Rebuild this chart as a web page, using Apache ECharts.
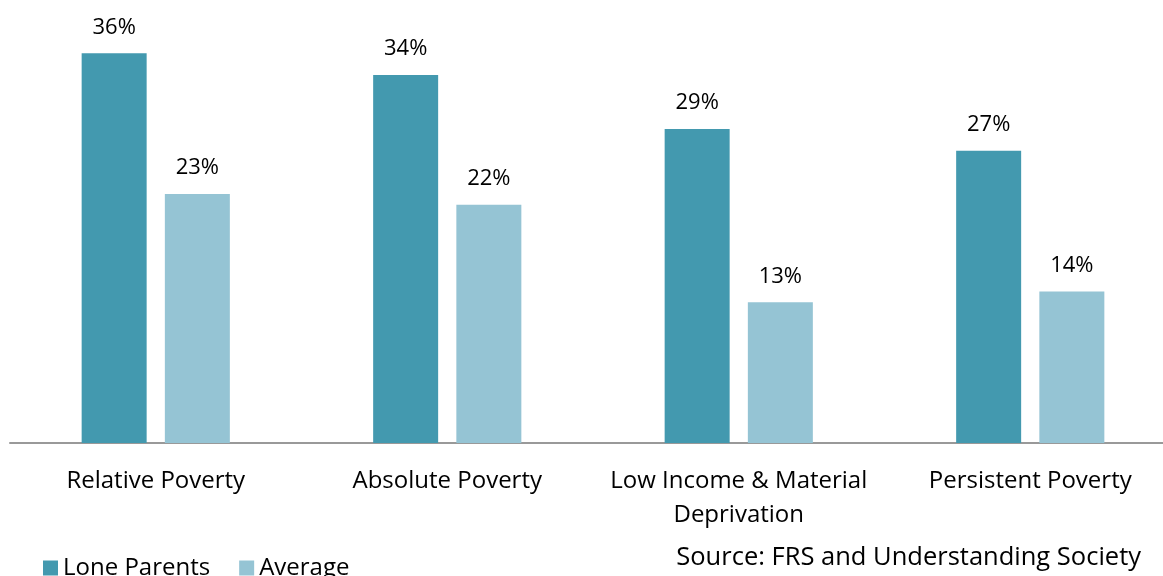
<!DOCTYPE html>
<html>
<head>
<meta charset="utf-8">
<script src="https://cdn.jsdelivr.net/npm/echarts@6/dist/echarts.min.js"></script>
<style>html,body{margin:0;padding:0;background:#fff;overflow:hidden}#c{width:1176px;height:576px}</style>
</head>
<body>
<div id="c"></div>
<script>
const categories = ['Relative Poverty', 'Absolute Poverty', 'Low Income & Material\nDeprivation', 'Persistent Poverty'];
const loneParents = [36, 34, 29, 27];
const average = [23, 22, 13, 14];
const seriesNames = ['Lone Parents', 'Average'];

const FONT = '"Open Sans", "DejaVu Sans", sans-serif';
const chart = echarts.init(document.getElementById('c'));
const labelCfg = {show: true, position: 'top', distance: 15, formatter: '{c}%', color: '#000', fontSize: 22, fontFamily: FONT};
chart.setOption({
  animation: false,
  grid: {left: 10, right: 0, top: 10, bottom: 133, containLabel: false},
  legend: {
    left: 38, top: 551, icon: 'rect', itemWidth: 15, itemHeight: 15, itemGap: 29,
    textStyle: {fontSize: 24, fontFamily: FONT, color: '#000'},
    data: seriesNames
  },
  xAxis: {
    type: 'category', data: categories,
    axisLine: {lineStyle: {color: '#999', width: 2}},
    axisTick: {show: false},
    axisLabel: {color: '#000', fontSize: 24, fontFamily: FONT, margin: 21, lineHeight: 34, interval: 0}
  },
  yAxis: {type: 'value', min: 0, max: 40, show: false, splitLine: {show: false}},
  graphic: [{
    type: 'text', right: 35, top: 545,
    style: {text: 'Source: FRS and Understanding Society', fontSize: 25.5, fontFamily: FONT, fill: '#000'}
  }],
  series: [
    {name: seriesNames[0], type: 'bar', data: loneParents, barWidth: 65, barGap: '28%', itemStyle: {color: '#4399AF'}, label: labelCfg},
    {name: seriesNames[1], type: 'bar', data: average, barWidth: 65, barGap: '28%', itemStyle: {color: '#95C4D4'}, label: labelCfg}
  ]
});
</script>
</body>
</html>
